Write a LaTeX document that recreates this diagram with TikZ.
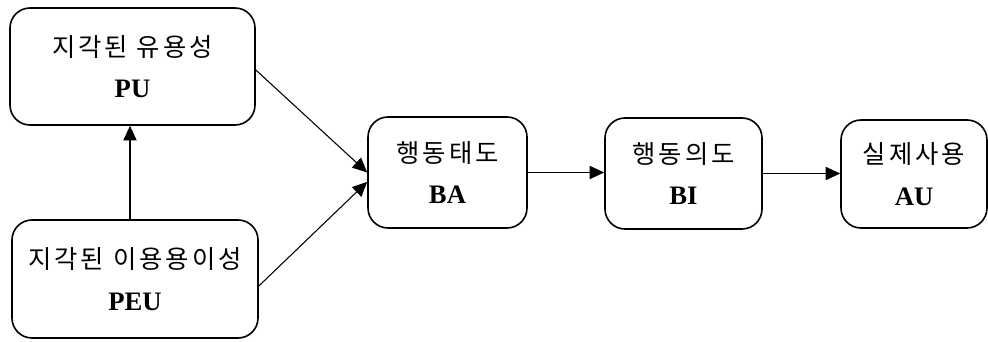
\documentclass[tikz,border=0pt]{standalone}
\usepackage{fontspec}
\setmainfont{Liberation Serif}
\newfontfamily\kr[LetterSpace=12]{Noto Sans CJK KR}
\usetikzlibrary{arrows.meta}
\tikzset{
  box/.style={draw, line width=1.2pt, rounded corners=15pt, align=center,
    inner sep=0pt, font=\fontsize{20}{31}\selectfont\bfseries},
  arr/.style={line width=0.8pt, -{Triangle[length=11pt,width=10pt]}}
}
\newcommand{\krl}[1]{{\mdseries\fontsize{19}{31}\selectfont\kr #1}}
\begin{document}
\begin{tikzpicture}[x=0.75pt,y=-0.75pt]
\useasboundingbox (0,0) rectangle (988,342);
\node[box, minimum width=183.75pt, minimum height=87.75pt] (pu) at (132.5,66.5) {\krl{지각된 유용성}\\PU};
\node[box, minimum width=184.5pt, minimum height=88.5pt] (peu) at (135,279) {\krl{지각된 이용용이성}\\PEU};
\node[box, minimum width=119.25pt, minimum height=83.25pt] (ba) at (447.5,172.5) {\krl{행동태도}\\BA};
\node[box, minimum width=117.75pt, minimum height=83.25pt] (bi) at (683.5,173.5) {\krl{행동의도}\\BI};
\node[box, minimum width=109.5pt, minimum height=81pt] (au) at (914,174) {\krl{실제사용}\\AU};
\coordinate (ax) at (130,0);
\draw[arr] (peu.north -| ax) -- (pu.south -| ax);
\draw[arr] ([yshift=-2.6pt]pu.east) -- (ba.west);
\draw[arr] ([yshift=-5.25pt]peu.east) -- ([yshift=-7pt]ba.west);
\draw[arr] (ba.east) -- (ba.east -| bi.west);
\draw[arr] (bi.east) -- (bi.east -| au.west);
\end{tikzpicture}
\end{document}
